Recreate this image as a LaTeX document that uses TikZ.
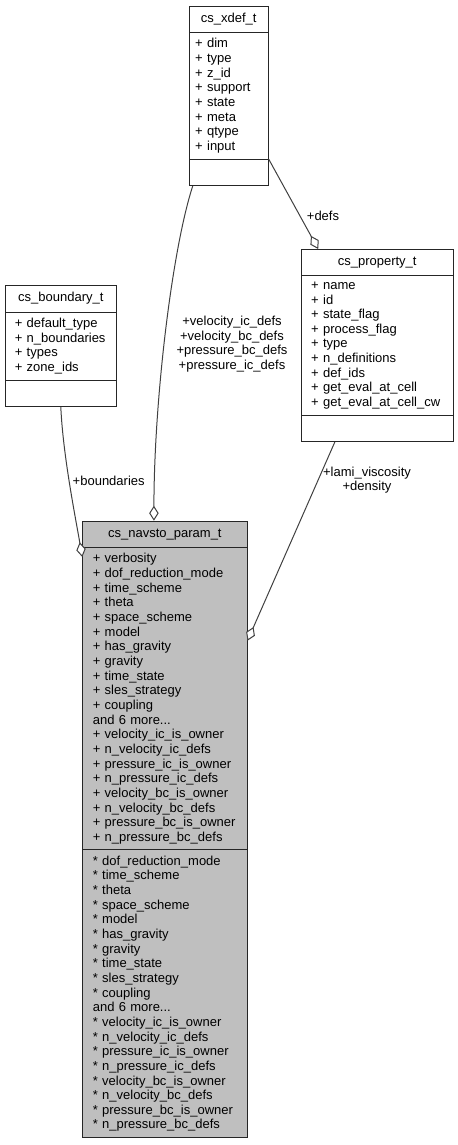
\documentclass[tikz,border=0pt]{standalone}
\usepackage{fontspec}
\setmainfont{Liberation Sans}
\usetikzlibrary{shapes.multipart, arrows.meta, positioning}
\tikzset{
	letra/.style={font=\fontsize{13bp}{14.65bp}\selectfont}, % Tipo de letra de todo el diagrama
	clase/.style={letra, rectangle split, rectangle split parts=3, draw=black!85, line width=1bp, fill=white, inner ysep=5.4bp, align=left, anchor=north west}, % Cajas de las estructuras
	actual/.style={clase, fill=gray!50}, % Estructura documentada
	enlace/.style={draw=black!75, line width=1bp, -{Diamond[fill=white, length=15bp, width=9.5bp]}}, % Arcos de agregacion
	etiqueta/.style={letra, align=center, inner sep=0pt} % Nombres de los campos
}

\begin{document}
\begin{tikzpicture}[x=1bp, y=-1bp]
	\useasboundingbox (0,0) rectangle (458,1145);
	\node[clase, inner xsep=6bp, text width=67bp] (xdef) at (188.7,5.7) {\strut\hspace*{\fill}cs\_xdef\_t\hspace*{\fill}\null
		\nodepart{two} + dim\\ + type\\ + z\_id\\ + support\\ + state\\ + meta\\ + qtype\\ + input
		\nodepart{three} \strut};
	\node[clase, inner xsep=10bp, text width=132bp] (prop) at (300.7,249) {\strut\hspace*{\fill}cs\_property\_t\hspace*{\fill}\null
		\nodepart{two} + name\\ + id\\ + state\_flag\\ + process\_flag\\ + type\\ + n\_definitions\\ + def\_ids\\ + get\_eval\_at\_cell\\ + get\_eval\_at\_cell\_cw
		\nodepart{three} \strut};
	\node[clase, inner xsep=9.6bp, text width=92bp] (bound) at (4.7,285.3) {\strut\hspace*{\fill}cs\_boundary\_t\hspace*{\fill}\null
		\nodepart{two} + default\_type\\ +~n\_boundaries\\ + types\\ + zone\_ids
		\nodepart{three} \strut};
	\node[actual, inner xsep=10bp, text width=144.2bp] (param) at (82.3,520.7) {\strut\hspace*{\fill}cs\_navsto\_param\_t\hspace*{\fill}\null
		\nodepart{two} + verbosity\\ + dof\_reduction\_mode\\ + time\_scheme\\ + theta\\ + space\_scheme\\ + model\\ + has\_gravity\\ + gravity\\ + time\_state\\ + sles\_strategy\\ + coupling\\ and 6 more...\\ + velocity\_ic\_is\_owner\\ + n\_velocity\_ic\_defs\\ + pressure\_ic\_is\_owner\\ + n\_pressure\_ic\_defs\\ + velocity\_bc\_is\_owner\\ + n\_velocity\_bc\_defs\\ +~pressure\_bc\_is\_owner\\ + n\_pressure\_bc\_defs
		\nodepart{three} * dof\_reduction\_mode\\{}* time\_scheme\\{}* theta\\{}* space\_scheme\\{}* model\\{}* has\_gravity\\{}* gravity\\{}* time\_state\\{}* sles\_strategy\\{}* coupling\\ and 6 more...\\{}* velocity\_ic\_is\_owner\\{}* n\_velocity\_ic\_defs\\{}* pressure\_ic\_is\_owner\\{}* n\_pressure\_ic\_defs\\{}* velocity\_bc\_is\_owner\\{}* n\_velocity\_bc\_defs\\{}* pressure\_bc\_is\_owner\\{}* n\_pressure\_bc\_defs};

	\draw[enlace] (xdef.two split east) -- ([xshift=17.5bp]prop.north west);
	\draw[enlace] ([xshift=4bp]xdef.south west) .. controls (172,250) and (154,400) .. ([xshift=-11bp]param.north);
	\draw[enlace] (bound.south) .. controls (63,455) and (75,515) .. ([yshift=-36.3bp]param.north west);
	\draw[enlace] ([xshift=-42.4bp]prop.south) -- ([yshift=-120bp]param.north east);

	\node[etiqueta] (lDefs) at (323,216) {+defs};
	\node[etiqueta] (lVel) at (232,344) {+velocity\_ic\_defs\\+velocity\_bc\_defs\\+pressure\_bc\_defs\\+pressure\_ic\_defs};
	\node[etiqueta] (lBound) at (108.7,480.7) {+boundaries};
	\node[etiqueta] (lVisc) at (367,480) {+lami\_viscosity\\+density};
\end{tikzpicture}
\end{document}
